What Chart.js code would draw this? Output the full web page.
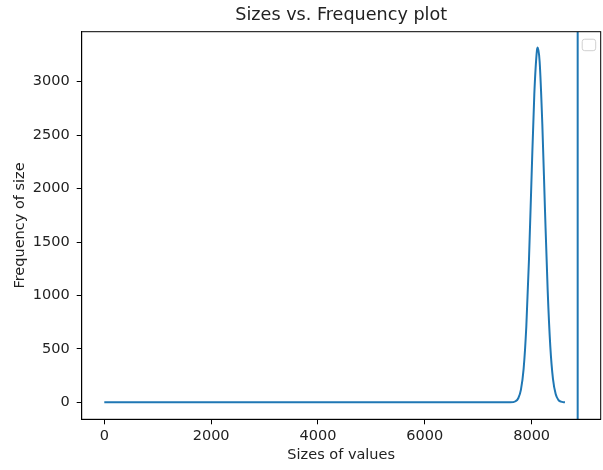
<!DOCTYPE html>
<html>
<head>
<meta charset="utf-8">
<script src="https://cdn.jsdelivr.net/npm/chart.js@4"></script>
<style>
  html, body { margin: 0; padding: 0; background: #fff; }
  canvas { display: block; }
</style>
</head>
<body>
<canvas id="freqChart" width="603" height="470"></canvas>
<script>
// datos
const sizes = [0, 7600, 7700, 7750, 7800, 7850, 7900, 7950, 8000, 8050, 8100, 8115,
               8150, 8200, 8250, 8300, 8350, 8400, 8450, 8500, 8550, 8600, 8624];
const frequency = [0, 0, 10, 38, 119, 313, 705, 1331, 2129, 2881, 3295, 3320,
                   3187, 2604, 1800, 1052, 519, 217, 77, 23, 6, 1, 0];
const vlineX = 8862;           // línea vertical (axvline)
const xTicks = [0, 2000, 4000, 6000, 8000];
const yTicks = [0, 500, 1000, 1500, 2000, 2500, 3000];
const xRange = [-423, 9293];
const yRange = [-159, 3468];

const FONT = "'DejaVu Sans', sans-serif";
const BLUE = '#1f77b4';

// caja + título + leyenda vacía, como matplotlib
const framePlugin = {
    id: 'frame',
    afterDraw(chart) {
        const { ctx, chartArea: a } = chart;
        ctx.save();
        ctx.strokeStyle = '#000';
        ctx.lineWidth = 1;
        ctx.strokeRect(a.left, a.top, a.right - a.left, a.bottom - a.top);

        // leyenda vacía arriba a la derecha
        ctx.strokeStyle = '#d0d0d0';
        ctx.fillStyle = 'rgba(255,255,255,0.8)';
        ctx.beginPath();
        ctx.roundRect(a.right - 18.5, a.top + 7.5, 13.5, 11.5, 2.5);
        ctx.fill();
        ctx.stroke();

        ctx.fillStyle = '#222';
        ctx.font = '17.6px ' + FONT;
        ctx.textAlign = 'center';
        ctx.textBaseline = 'middle';
        ctx.fillText('Sizes vs. Frequency plot', (a.left + a.right) / 2, 15);
        ctx.restore();
    }
};

const points = sizes.map((x, i) => ({ x: x, y: frequency[i] }));

new Chart(document.getElementById('freqChart'), {
    type: 'line',
    data: {
        datasets: [
            {
                data: points,
                borderColor: BLUE,
                borderWidth: 2,
                pointRadius: 0,
                cubicInterpolationMode: 'monotone',
                fill: false
            },
            {
                data: [{ x: vlineX, y: yRange[0] }, { x: vlineX, y: yRange[1] }],
                borderColor: BLUE,
                borderWidth: 2,
                pointRadius: 0,
                fill: false
            }
        ]
    },
    options: {
        responsive: false,
        animation: false,
        layout: { padding: { left: 0, right: 2.3, top: 31.7, bottom: 0 } },
        plugins: {
            legend: { display: false },
            title: { display: false },
            tooltip: { enabled: false }
        },
        scales: {
            x: {
                type: 'linear',
                min: xRange[0],
                max: xRange[1],
                afterBuildTicks: s => { s.ticks = xTicks.map(v => ({ value: v })); },
                afterFit: s => { s.height = 50.7; },
                grid: { drawOnChartArea: false, drawTicks: true, tickLength: 5, tickColor: '#000' },
                border: { color: '#000', width: 1 },
                ticks: {
                    color: '#222',
                    padding: 3,
                    maxRotation: 0,
                    callback: v => String(v),
                    font: { family: FONT, size: 14.5 }
                },
                title: {
                    display: true,
                    text: 'Sizes of values',
                    color: '#222',
                    font: { family: FONT, size: 14.5 },
                    padding: { top: 0, bottom: 6.5 }
                }
            },
            y: {
                type: 'linear',
                min: yRange[0],
                max: yRange[1],
                afterBuildTicks: s => { s.ticks = yTicks.map(v => ({ value: v })); },
                afterFit: s => { s.width = 81.7; },
                grid: { drawOnChartArea: false, drawTicks: true, tickLength: 5, tickColor: '#000' },
                border: { color: '#000', width: 1 },
                ticks: {
                    color: '#222',
                    padding: 7,
                    callback: v => String(v),
                    font: { family: FONT, size: 14.5 }
                },
                title: {
                    display: true,
                    text: 'Frequency of size',
                    color: '#222',
                    font: { family: FONT, size: 14.5 },
                    padding: { top: 11.8, bottom: 0 }
                }
            }
        }
    },
    plugins: [framePlugin]
});
</script>
</body>
</html>
